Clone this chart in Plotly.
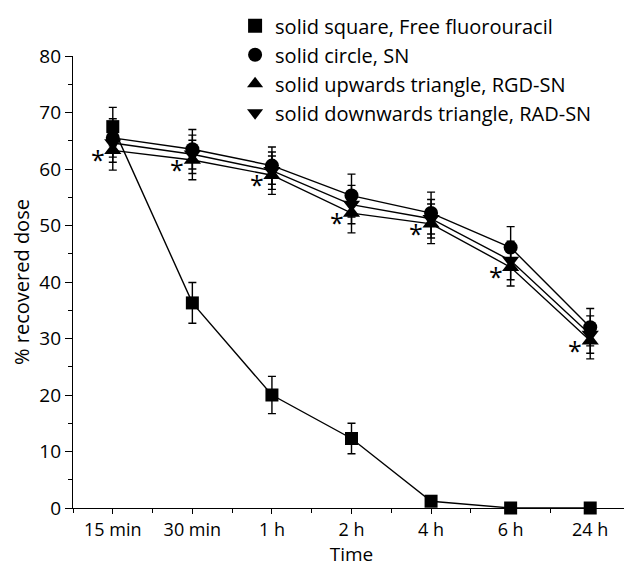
import plotly.graph_objects as go

time_labels = ["15 min", "30 min", "1 h", "2 h", "4 h", "6 h", "24 h"]

free_fu = [67.5, 36.3, 20.0, 12.3, 1.2, 0.0, 0.0]
free_fu_err = [3.4, 3.6, 3.3, 2.7, 0.0, 0.0, 0.0]

sn = [65.5, 63.5, 60.6, 55.3, 52.2, 46.1, 32.0]
sn_err = [3.4, 3.5, 3.3, 3.8, 3.7, 3.7, 3.3]

rad_sn = [64.6, 62.6, 59.7, 53.7, 51.2, 43.8, 30.7]
rad_sn_err = [3.4, 3.4, 3.3, 3.4, 3.4, 3.4, 3.3]

rgd_sn = [63.3, 61.6, 58.9, 52.2, 50.3, 42.6, 29.6]
rgd_sn_err = [3.5, 3.5, 3.4, 3.5, 3.5, 3.3, 3.2]

names = ["solid square, Free fluorouracil", "solid circle, SN",
         "solid upwards triangle, RGD-SN", "solid downwards triangle, RAD-SN"]

x = list(range(len(time_labels)))
FONT = "Open Sans, Noto Sans, sans-serif"

fig = go.Figure()

series = [
    (free_fu, free_fu_err, "square", 13),
    (sn, sn_err, "circle", 14),
    (rad_sn, rad_sn_err, "triangle-down", 15),
    (rgd_sn, rgd_sn_err, "triangle-up", 15),
]
for vals, err, sym, sz in series:
    fig.add_trace(go.Scatter(
        x=x, y=vals, mode="lines+markers",
        line=dict(color="black", width=1.4),
        marker=dict(symbol=sym, size=sz, color="black"),
        error_y=dict(type="data", array=err, visible=True, color="black",
                     thickness=1.4, width=4),
        showlegend=False, cliponaxis=False,
    ))

legend_syms = ["square", "circle", "triangle-up", "triangle-down"]
for nm, sym in zip(names, legend_syms):
    fig.add_trace(go.Scatter(
        x=[None], y=[None], mode="markers", name=nm,
        marker=dict(symbol=sym, size=14, color="black"),
    ))

for xi, v in zip(x, rgd_sn):
    fig.add_annotation(x=xi, y=v, text="*", showarrow=False,
                       xshift=-15, yshift=-9,
                       font=dict(family=FONT, size=25, color="black"))

fig.update_layout(
    width=624, height=559,
    margin=dict(l=65, r=2, t=48, b=59, autoexpand=False),
    paper_bgcolor="white", plot_bgcolor="white",
    font=dict(family=FONT, size=19, color="black"),
    legend=dict(x=0.291, y=1.11, xanchor="left", yanchor="top",
                bgcolor="rgba(0,0,0,0)", font=dict(size=20),
                tracegroupgap=0, itemwidth=30),
    xaxis=dict(
        range=[-0.5, 6.5], tickmode="array", tickvals=x, ticktext=time_labels,
        tickfont=dict(size=18),
        showline=True, linecolor="black", linewidth=1.4,
        ticks="outside", ticklen=5, tickwidth=1.4, tickcolor="black",
        showgrid=False, zeroline=False,
        minor=dict(tickvals=[i + 0.5 for i in range(-1, 7)], ticks="outside",
                   ticklen=4, tickwidth=1.4, tickcolor="black"),
        title=dict(text="Time", font=dict(size=19), standoff=5),
    ),
    yaxis=dict(
        range=[0, 80], tickvals=list(range(0, 81, 10)),
        showline=True, linecolor="black", linewidth=1.4,
        ticks="outside", ticklen=7, tickwidth=1.4, tickcolor="black",
        showgrid=False, zeroline=False,
        minor=dict(dtick=5, ticks="outside", ticklen=4, tickwidth=1.4,
                   tickcolor="black"),
        title=dict(text="% recovered dose", font=dict(size=20), standoff=4),
    ),
)

fig.write_html("out.html")
